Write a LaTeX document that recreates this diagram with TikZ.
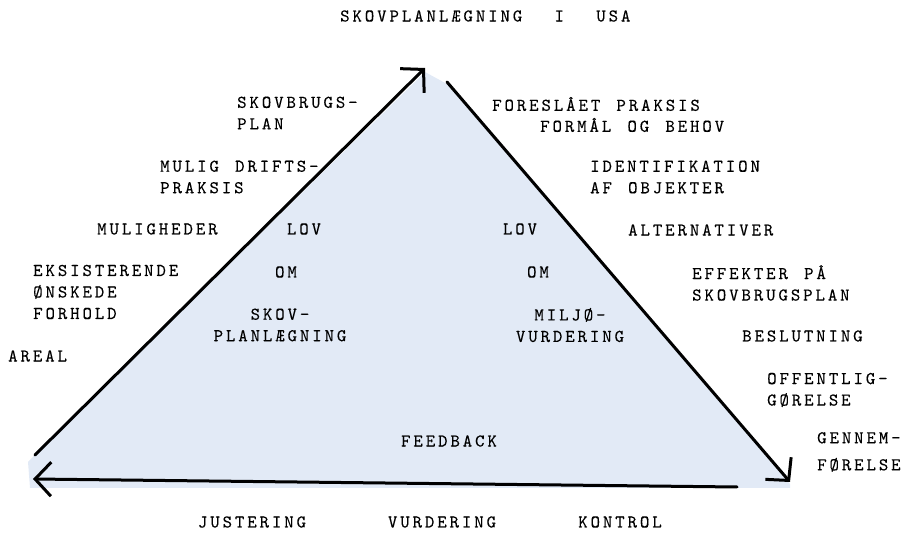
\documentclass[tikz,border=0pt]{standalone}
\usepackage{fontspec}
\newfontfamily\typewriter{lmmono10-regular.otf}[LetterSpace=16, WordSpace=1.31, FakeBold=0.15]
\usetikzlibrary{arrows.meta}
\definecolor{paleblue}{RGB}{226,234,246}

\begin{document}
\begin{tikzpicture}[x=1pt, y=-1pt]
		% Styles
		\tikzstyle{word} = [inner sep=0pt, align=left,
		font=\typewriter\fontsize{18}{21.5}\selectfont]
		\tikzstyle{lword} = [word, anchor=west]
		\tikzstyle{cword} = [word, align=center]
		\tikzstyle{side} = [draw, line width=3pt, line cap=round,
		-{Straight Barb[length=16pt, width=34pt, line width=3pt]}]
		
		\useasboundingbox (0,0) rectangle (906,534);
		
		% Corners
		\coordinate (apex) at (425,68);
		\coordinate (leftfoot) at (35,455);
		\coordinate (righttop) at (447,82);
		\coordinate (rightfoot) at (790,482);
		\coordinate (baseright) at (737,487);
		\coordinate (baseleft) at (33,479);
		
		% Triangle
		\fill [paleblue] (425,72) -- (447,84) -- (790,484) -- (790,488)
		-- (30,488) -- (28,462) -- (leftfoot) -- cycle;
		
		% Title
		\node [lword] (title) at (340,16) {SKOVPLANLÆGNING~~I~~USA};
		
		% Left side
		\node [lword] (plan) at (237,113) {SKOVBRUGS-\\PLAN};
		\node [lword] (drift) at (160,177) {MULIG DRIFTS-\\PRAKSIS};
		\node [lword] (muligheder) at (97,229) {MULIGHEDER};
		\node [lword] (forhold) at (33,292) {EKSISTERENDE\\ØNSKEDE\\FORHOLD};
		\node [lword] (areal) at (8,356) {AREAL};
		
		% Inside
		\node [cword] (lovA) at (304,229) {LOV};
		\node [cword] (omA) at (286,272) {OM};
		\node [cword] (skov) at (280,325) {SKOV-\\PLANLÆGNING};
		\node [cword] (lovB) at (520,229) {LOV};
		\node [cword] (omB) at (538,272) {OM};
		\node [cword] (miljo) at (570,325) {MILJØ-\\VURDERING};
		\node [cword] (feedback) at (449,441) {FEEDBACK};
		
		% Right side
		\node [lword] (praksis) at (492,104) {FORESLÅET PRAKSIS};
		\node [lword] (formaal) at (540,125) {FORMÅL OG BEHOV};
		\node [lword] (objekter) at (590,177) {IDENTIFIKATION\\AF OBJEKTER};
		\node [lword] (alternativer) at (628,230) {ALTERNATIVER};
		\node [lword] (effekter) at (692,283) {EFFEKTER PÅ\\SKOVBRUGSPLAN};
		\node [lword] (beslutning) at (742,336) {BESLUTNING};
		\node [lword] (offentlig) at (767,390) {OFFENTLIG-\\GØRELSE};
		\node [lword, font=\typewriter\fontsize{18}{27}\selectfont]
		(gennem) at (817,452) {GENNEM-\\FØRELSE};
		
		% Bottom
		\node [cword] (justering) at (252,522) {JUSTERING};
		\node [cword] (vurdering) at (442,522) {VURDERING};
		\node [cword] (kontrol) at (620,522) {KONTROL};
		
		% Connections
		\path [side] (leftfoot) -- (apex);
		\path [side] (righttop) -- (rightfoot);
		\path [side] (baseright) -- (baseleft);
	\end{tikzpicture}
\end{document}
